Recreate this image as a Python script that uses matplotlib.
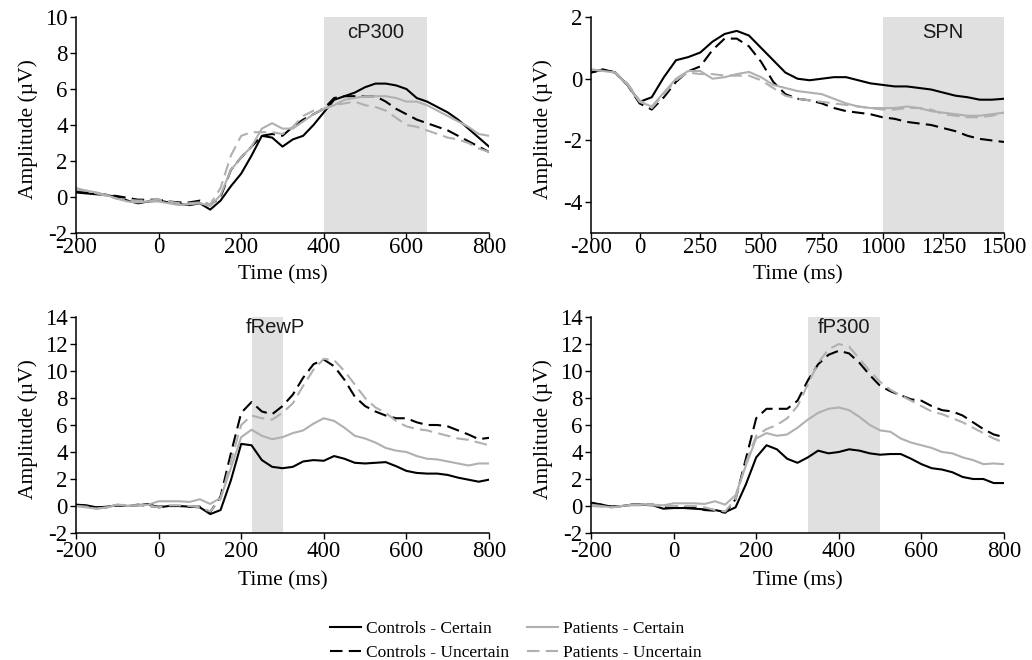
import numpy as np
import matplotlib
matplotlib.use('Agg')
import matplotlib.pyplot as plt

plt.rcParams['font.family'] = ['Liberation Serif', 'DejaVu Serif']
plt.rcParams['axes.unicode_minus'] = False

# time axes (ms)
t_short = list(range(-200, 801, 25))
t_long = list(range(-200, 1501, 50))

# cP300 panel
cp_cc = [0.25, 0.2, 0.15, 0.1, 0.0, -0.2, -0.35, -0.25, -0.2, -0.3, -0.4, -0.45, -0.35, -0.7, -0.2, 0.6, 1.3, 2.3,
         3.4, 3.3, 2.8, 3.2, 3.4, 4.0, 4.7, 5.4, 5.6, 5.8, 6.1, 6.3, 6.3, 6.2, 6.0, 5.5, 5.3, 5.0, 4.7, 4.3, 3.8, 3.3, 2.8]
cp_cu = [0.3, 0.25, 0.2, 0.12, 0.05, -0.05, -0.15, -0.15, -0.15, -0.25, -0.3, -0.3, -0.2, -0.45, 0.0, 1.5, 2.2, 2.8,
         3.4, 3.5, 3.4, 3.9, 4.3, 4.6, 4.9, 5.5, 5.6, 5.6, 5.6, 5.6, 5.3, 4.9, 4.6, 4.3, 4.1, 3.9, 3.7, 3.4, 3.1, 2.8, 2.5]
cp_pc = [0.4, 0.35, 0.25, 0.1, -0.1, -0.25, -0.3, -0.25, -0.25, -0.35, -0.45, -0.4, -0.35, -0.5, 0.1, 1.5, 2.2, 2.8,
         3.8, 4.1, 3.8, 3.8, 4.2, 4.6, 4.9, 5.1, 5.4, 5.5, 5.6, 5.6, 5.6, 5.5, 5.3, 5.3, 5.1, 4.8, 4.5, 4.2, 3.9, 3.5, 3.4]
cp_pu = [0.5, 0.35, 0.2, 0.05, -0.1, -0.15, -0.2, -0.2, -0.15, -0.25, -0.35, -0.35, -0.3, -0.4, 0.5, 2.3, 3.4, 3.6,
         3.6, 3.6, 3.5, 3.9, 4.5, 4.8, 4.9, 5.1, 5.2, 5.3, 5.1, 5.0, 4.8, 4.4, 4.0, 3.9, 3.7, 3.5, 3.3, 3.2, 3.0, 2.7, 2.5]

# SPN panel
spn_cc = [0.2, 0.3, 0.2, -0.2, -0.75, -0.6, 0.05, 0.6, 0.7, 0.85, 1.2, 1.45, 1.55, 1.4, 1.0, 0.6, 0.2, 0.0, -0.05,
          0.0, 0.05, 0.05, -0.05, -0.15, -0.2, -0.25, -0.25, -0.3, -0.35, -0.45, -0.55, -0.6, -0.68, -0.68, -0.65]
spn_cu = [0.2, 0.3, 0.2, -0.2, -0.8, -1.0, -0.6, -0.1, 0.24, 0.4, 0.93, 1.3, 1.3, 1.05, 0.55, -0.1, -0.5, -0.65,
          -0.7, -0.8, -0.95, -1.05, -1.1, -1.15, -1.25, -1.3, -1.4, -1.45, -1.5, -1.6, -1.7, -1.85, -1.95, -2.0, -2.05]
spn_pc = [0.3, 0.25, 0.2, -0.2, -0.75, -0.9, -0.45, 0.0, 0.25, 0.25, 0.0, 0.05, 0.15, 0.22, 0.05, -0.2, -0.3, -0.4,
          -0.45, -0.5, -0.65, -0.8, -0.9, -0.95, -0.95, -0.95, -0.9, -0.95, -1.05, -1.1, -1.15, -1.2, -1.2, -1.15, -1.1]
spn_pu = [0.3, 0.25, 0.2, -0.15, -0.7, -0.95, -0.5, -0.05, 0.2, 0.15, 0.15, 0.1, 0.1, 0.1, -0.05, -0.3, -0.55, -0.65,
          -0.7, -0.75, -0.8, -0.85, -0.9, -0.95, -1.0, -1.0, -0.95, -0.95, -1.0, -1.15, -1.2, -1.25, -1.25, -1.2, -1.1]

# fRewP panel
rew_cc = [0.1, 0.05, -0.1, -0.05, 0.05, 0.0, 0.05, 0.15, -0.1, 0.0, 0.0, -0.05, -0.1, -0.6, -0.3, 1.9, 4.6, 4.5,
          3.4, 2.9, 2.8, 2.9, 3.3, 3.4, 3.35, 3.7, 3.5, 3.2, 3.15, 3.2, 3.25, 2.95, 2.6, 2.45, 2.4, 2.4, 2.3, 2.1, 1.95,
          1.8, 1.95]
rew_cu = [0.05, 0.0, -0.1, -0.1, 0.05, 0.0, 0.1, 0.0, -0.05, 0.0, 0.0, -0.05, -0.05, -0.45, 0.7, 3.9, 6.9, 7.7,
          7.0, 6.8, 7.4, 8.25, 9.5, 10.5, 10.85, 10.35, 9.35, 8.1, 7.4, 7.0, 6.7, 6.5, 6.5, 6.2, 6.0, 6.0, 5.9, 5.6, 5.3,
          4.95, 5.05]
rew_pc = [0.0, -0.1, -0.2, -0.1, 0.1, 0.0, 0.05, 0.1, 0.35, 0.35, 0.35, 0.3, 0.5, 0.15, 0.6, 2.8, 5.1, 5.65, 5.2,
          4.95, 5.1, 5.4, 5.6, 6.1, 6.5, 6.3, 5.8, 5.2, 5.0, 4.7, 4.3, 4.1, 4.0, 3.7, 3.5, 3.45, 3.3, 3.15, 3.0, 3.15,
          3.15]
rew_pu = [0.0, -0.05, -0.2, -0.1, 0.1, 0.05, 0.05, 0.05, -0.1, 0.05, 0.05, 0.0, -0.1, -0.4, 0.5, 3.3, 6.0, 6.7,
          6.5, 6.4, 6.9, 7.6, 8.9, 10.1, 10.9, 10.8, 10.0, 9.0, 8.0, 7.3, 6.9, 6.3, 5.9, 5.7, 5.6, 5.4, 5.2, 5.0, 4.9,
          4.7, 4.5]

# fP300 panel
fp_cc = [0.2, 0.1, -0.05, 0.0, 0.1, 0.1, 0.05, -0.2, -0.15, -0.15, -0.2, -0.25, -0.3, -0.45, -0.1, 1.6, 3.6, 4.5,
         4.2, 3.5, 3.2, 3.6, 4.1, 3.9, 4.0, 4.2, 4.1, 3.9, 3.8, 3.85, 3.85, 3.5, 3.1, 2.8, 2.7, 2.5, 2.15, 2.0, 2.0, 1.7,
         1.7]
fp_cu = [0.25, 0.1, -0.05, 0.0, 0.1, 0.1, 0.1, -0.1, -0.1, -0.1, -0.1, -0.3, -0.35, -0.5, 0.5, 3.5, 6.5, 7.2, 7.2,
         7.2, 7.8, 9.3, 10.5, 11.2, 11.5, 11.3, 10.6, 9.7, 8.9, 8.5, 8.2, 7.9, 7.8, 7.4, 7.1, 7.0, 6.7, 6.2, 5.7, 5.3,
         5.1]
fp_pc = [0.1, 0.0, -0.1, 0.0, 0.1, 0.1, 0.1, 0.05, 0.2, 0.2, 0.2, 0.15, 0.35, 0.1, 0.8, 3.0, 5.0, 5.4, 5.2, 5.3,
         5.8, 6.4, 6.9, 7.2, 7.3, 7.1, 6.6, 6.0, 5.6, 5.5, 5.0, 4.7, 4.5, 4.3, 4.0, 3.9, 3.6, 3.4, 3.1, 3.15, 3.1]
fp_pu = [0.0, -0.05, -0.1, 0.0, 0.05, 0.05, 0.05, 0.0, 0.0, 0.0, 0.0, -0.1, -0.3, -0.4, 0.5, 3.2, 5.2, 5.7, 6.0,
         6.5, 7.4, 9.0, 10.6, 11.6, 12.0, 11.8, 10.9, 10.0, 9.2, 8.6, 8.2, 7.8, 7.4, 7.0, 6.8, 6.5, 6.2, 5.8, 5.4, 5.0,
         4.7]

labels = ['Controls - Certain', 'Controls - Uncertain', 'Patients - Certain', 'Patients - Uncertain']
gray = '#b0b0b0'
styles = [('black', '-'), ('black', '--'), (gray, '-'), (gray, '--')]

panels = [
    dict(t=t_short, ys=[cp_cc, cp_cu, cp_pc, cp_pu], win=(400, 650), name='cP300', ty=0.926,
         xlim=(-200, 800), xt=range(-200, 801, 200), ylim=(-2, 10), yt=range(-2, 11, 2)),
    dict(t=t_long, ys=[spn_cc, spn_cu, spn_pc, spn_pu], win=(1000, 1500), name='SPN', ty=0.926,
         xlim=(-200, 1500), xt=[-200, 0, 250, 500, 750, 1000, 1250, 1500], ylim=(-5, 2), yt=range(-4, 3, 2)),
    dict(t=t_short, ys=[rew_cc, rew_cu, rew_pc, rew_pu], win=(225, 300), name='fRewP', ty=0.95, tx=282,
         xlim=(-200, 800), xt=range(-200, 801, 200), ylim=(-2, 14), yt=range(-2, 15, 2)),
    dict(t=t_short, ys=[fp_cc, fp_cu, fp_pc, fp_pu], win=(325, 500), name='fP300', ty=0.95,
         xlim=(-200, 800), xt=range(-200, 801, 200), ylim=(-2, 14), yt=range(-2, 15, 2)),
]

W, H = 1032, 660
fig = plt.figure(figsize=(W / 100, H / 100), dpi=100)
boxes = [(76, 17), (591, 17), (76, 317), (591, 317)]

handles = []
for k, (p, (x0, y0)) in enumerate(zip(panels, boxes)):
    ax = fig.add_axes([x0 / W, 1 - (y0 + 216) / H, 413 / W, 216 / H])
    ax.axvspan(p['win'][0], p['win'][1], color='#e0e0e0', lw=0, zorder=0)
    for y, (c, ls), lab in zip(p['ys'], styles, labels):
        if ls == '--':
            ln, = ax.plot(p['t'], y, color=c, lw=1.5, dashes=(6, 3), label=lab, zorder=2,
                          solid_joinstyle='round', dash_joinstyle='round')
        else:
            ln, = ax.plot(p['t'], y, color=c, lw=1.5, label=lab, zorder=2, solid_joinstyle='round')
        if k == 0:
            handles.append(ln)
    top_row = k < 2
    ax.set_xlim(*p['xlim'])
    ax.set_ylim(*p['ylim'])
    ax.set_xticks(list(p['xt']))
    ax.set_yticks(list(p['yt']))
    ax.tick_params(direction='out', length=4, width=1, labelsize=16.5, pad=2)
    ax.tick_params(axis='x', pad=-1 if top_row else 2)
    for s in ['top', 'right']:
        ax.spines[s].set_visible(False)
    for s in ['left', 'bottom']:
        ax.spines[s].set_linewidth(1.1)
    ax.set_ylabel('Amplitude (µV)', fontsize=15.5)
    ax.yaxis.set_label_coords(-0.093, 0.48)
    ax.set_xlabel('Time (ms)', fontsize=15.5)
    ax.xaxis.set_label_coords(0.5, -0.15 if top_row else -0.178)
    tx = p.get('tx', (p['win'][0] + p['win'][1]) / 2)
    ax.text(tx, p['ty'], p['name'], transform=ax.get_xaxis_transform(), ha='center', va='center',
            fontsize=14.5, family=['Liberation Sans', 'DejaVu Sans'], color='#1a1a1a')

fig.legend(handles, labels, ncol=2, loc='center', bbox_to_anchor=(0.5, 1 - 641 / H), frameon=False,
           fontsize=12.5, handlelength=1.8, handletextpad=0.3, columnspacing=1.0, labelspacing=0.45)

fig.savefig('out.png', dpi=100)
